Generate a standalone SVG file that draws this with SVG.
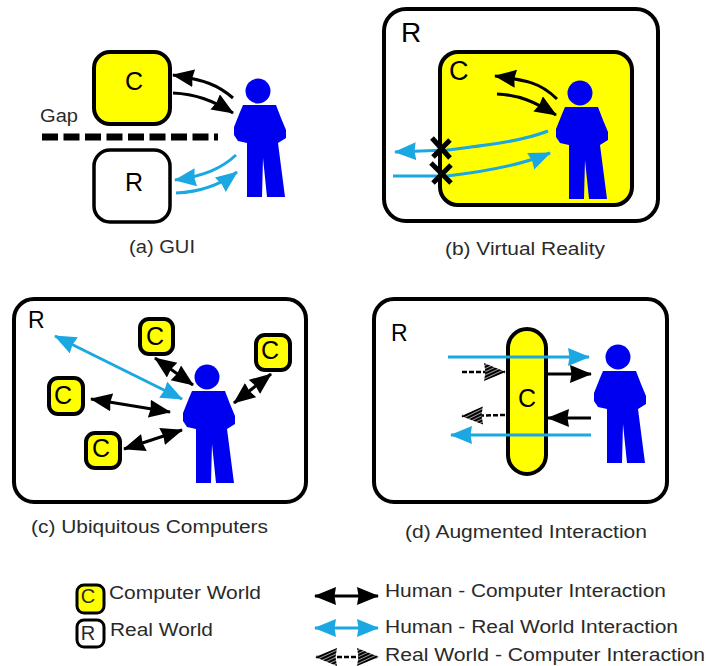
<svg xmlns="http://www.w3.org/2000/svg" width="706" height="666" viewBox="0 0 706 666">
<style>
text{font-family:"Liberation Sans",Arial,sans-serif;fill:#2a2a2a}
.lbl{font-size:17.5px}
.big{font-size:28px;fill:#000}
.mid{font-size:23px;fill:#000}
.ch{font-size:25px;fill:#000}
.box{stroke:#000;stroke-width:4;fill:#fff}
.cbox{stroke:#000;stroke-width:4;fill:#ffff00}
.person{fill:#0000f0}
.k{fill:none;stroke:#000;stroke-width:3;marker-end:url(#hk)}
.kk{fill:none;stroke:#000;stroke-width:3;marker-end:url(#hk);marker-start:url(#hk)}
.b{fill:none;stroke:#1ba7e2;stroke-width:3;marker-end:url(#hb)}
.bb{fill:none;stroke:#1ba7e2;stroke-width:3;marker-end:url(#hb);marker-start:url(#hb)}
.h{fill:none;stroke:#000;stroke-width:2.5;stroke-dasharray:5 2;marker-end:url(#hh)}
.hh{fill:none;stroke:#000;stroke-width:2.5;stroke-dasharray:5 2;marker-end:url(#hh);marker-start:url(#hh)}
.x{fill:none;stroke:#000;stroke-width:5}
</style>
<defs>
<pattern id="hatch" width="3" height="3" patternUnits="userSpaceOnUse" patternTransform="rotate(65)">
<rect width="3" height="3" fill="#fff"/><rect width="2.4" height="3" fill="#000"/>
</pattern>
<marker id="hk" markerUnits="userSpaceOnUse" markerWidth="24" markerHeight="20" refX="21" refY="9" orient="auto-start-reverse"><path d="M22,9 L0,0 L1.5,9 L0,18 Z" fill="#000"/></marker>
<marker id="hb" markerUnits="userSpaceOnUse" markerWidth="24" markerHeight="20" refX="21" refY="9" orient="auto-start-reverse"><path d="M22,9 L0,0 L1.5,9 L0,18 Z" fill="#1ba7e2"/></marker>
<marker id="hh" markerUnits="userSpaceOnUse" markerWidth="24" markerHeight="20" refX="21" refY="9" orient="auto-start-reverse"><path d="M22,9 L0,0 L1.5,9 L0,18 Z" fill="url(#hatch)"/></marker>
<g id="man">
<circle cx="258" cy="91" r="12.5"/>
<path d="M243,105 H276 L281,118 L286,130 V138 L278,143 L285,197 H267 L263,158 L262,197 H247 V143 L238,141 L234,135 V127 L240,112 Z"/>
</g>
</defs>

<g id="panel-a">
<g id="a-computer"><rect class="cbox" x="94" y="52" width="76" height="72" rx="16"/><text class="ch" x="134" y="90" text-anchor="middle">C</text></g>
<g id="a-real"><rect class="box" x="94" y="150" width="76" height="72" rx="16" style="stroke-width:3.5"/><text class="ch" x="134" y="191" text-anchor="middle">R</text></g>
<g id="a-gap"><text class="lbl" x="40" y="122" textLength="38" lengthAdjust="spacingAndGlyphs">Gap</text><path d="M42,137 H218" stroke="#000" stroke-width="7" stroke-dasharray="16 5.5" fill="none"/></g>
<g id="a-person" class="person"><use href="#man"/></g>
<text class="lbl" x="129" y="253" textLength="66" lengthAdjust="spacingAndGlyphs">(a) GUI</text>
</g>

<g id="panel-b">
<g id="b-real"><rect class="box" x="384" y="9" width="274" height="212" rx="22"/><text class="big" x="401" y="42">R</text></g>
<g id="b-computer"><rect class="cbox" x="440" y="52" width="192" height="153" rx="18"/><text x="449" y="80" style="font-size:27px;fill:#000">C</text></g>
<g id="b-person" class="person"><use href="#man" x="322" y="2"/></g>
<text class="lbl" x="445" y="255" textLength="160" lengthAdjust="spacingAndGlyphs">(b) Virtual Reality</text>
</g>

<g id="panel-c">
<g id="c-real"><rect class="box" x="14" y="299" width="292" height="203" rx="20"/><text class="mid" x="28" y="328">R</text></g>
<g id="c-computer-1"><rect class="cbox" x="140" y="319" width="33" height="35" rx="9"/><text class="ch" x="155" y="345" text-anchor="middle">C</text></g>
<g id="c-computer-2"><rect class="cbox" x="256" y="335" width="34" height="35" rx="9"/><text class="ch" x="270" y="359" text-anchor="middle">C</text></g>
<g id="c-computer-3"><rect class="cbox" x="49" y="378" width="34" height="36" rx="9"/><text class="ch" x="63" y="404" text-anchor="middle">C</text></g>
<g id="c-computer-4"><rect class="cbox" x="86" y="433" width="34" height="35" rx="9"/><text class="ch" x="101" y="457" text-anchor="middle">C</text></g>
<g id="c-person" class="person"><use href="#man" x="-51" y="286"/></g>
<text class="lbl" x="31" y="533" textLength="237" lengthAdjust="spacingAndGlyphs">(c) Ubiquitous Computers</text>
</g>

<g id="panel-d">
<g id="d-real"><rect class="box" x="374" y="299" width="293" height="203" rx="20"/><text class="mid" x="391" y="341">R</text></g>
<g id="d-computer"><rect class="cbox" x="508" y="329" width="38" height="145" rx="19"/><text class="ch" x="527" y="407" text-anchor="middle">C</text></g>
<g id="d-person" class="person"><use href="#man" x="360" y="266"/></g>
<text class="lbl" x="405" y="538" textLength="242" lengthAdjust="spacingAndGlyphs">(d) Augmented Interaction</text>
</g>

<g id="legend">
<g id="legend-computer"><rect x="77" y="585" width="27" height="28" rx="7" fill="#ffff00" stroke="#000" stroke-width="3"/><text x="88" y="603" text-anchor="middle" style="font-size:20px">C</text><text class="lbl" x="109" y="599" textLength="152" lengthAdjust="spacingAndGlyphs">Computer World</text></g>
<g id="legend-real"><rect x="77" y="620" width="27" height="27" rx="7" fill="#fff" stroke="#000" stroke-width="3"/><text x="88" y="640" text-anchor="middle" style="font-size:20px">R</text><text class="lbl" x="110" y="636" textLength="103" lengthAdjust="spacingAndGlyphs">Real World</text></g>
<text class="lbl" x="385" y="597" textLength="281" lengthAdjust="spacingAndGlyphs">Human - Computer Interaction</text>
<text class="lbl" x="385" y="633" textLength="293" lengthAdjust="spacingAndGlyphs">Human - Real World Interaction</text>
<text class="lbl" x="385" y="661" textLength="320" lengthAdjust="spacingAndGlyphs">Real World - Computer Interaction</text>
</g>

<g id="connectors">
<path class="k" d="M233,98 C218,85 205,80 173,75"/>
<path class="k" d="M173,93 C195,94 212,100 233,113"/>
<path class="b" d="M236,155 C222,168 205,176 175,180"/>
<path class="b" d="M176,193 C200,192 220,185 237,172"/>

<path class="k" d="M557,99 C540,82 525,80 495,76"/>
<path class="k" d="M497,94 C520,95 535,102 556,115"/>
<path class="b" d="M548,131 C520,142 480,146 447,150 L395,152"/>
<path class="b" d="M393,176 H447 C480,172 520,166 550,153"/>
<path class="x" d="M432,138 L450,158 M450,140 L433,157 M431,163 L451,183 M451,165 L433,183"/>

<path class="kk" d="M155,358 L193,385"/>
<path class="kk" d="M271,374 L234,403"/>
<path class="kk" d="M91,399 L170,412"/>
<path class="kk" d="M124,449 L182,430"/>
<path class="bb" d="M55,336 L182,399"/>

<path class="b" d="M448,357 H589"/>
<path class="k" d="M548,374 H591"/>
<path class="h" d="M462,372 H505"/>
<path class="k" d="M591,418 H548"/>
<path class="h" d="M505,415 L462,416"/>
<path class="b" d="M591,435 H451"/>

<path class="kk" d="M315,596 H378"/>
<path class="bb" d="M315,628 H378"/>
<path class="hh" d="M316,657 H378"/>
</g>
</svg>
